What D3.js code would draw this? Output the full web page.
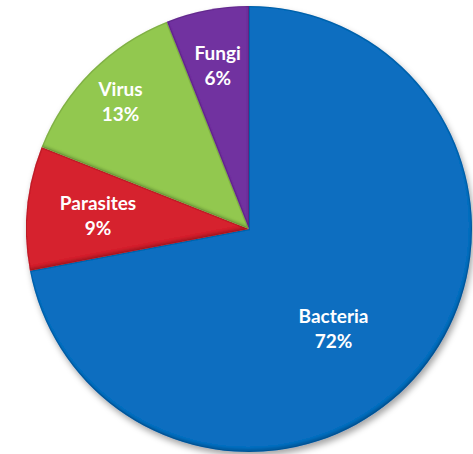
<!DOCTYPE html>
<html>
<head>
<meta charset="utf-8">
<script src="https://cdn.jsdelivr.net/npm/d3@7"></script>
<style>
  html, body { margin: 0; padding: 0; background: #ffffff; }
  svg { display: block; }
</style>
</head>
<body>
<svg id="chart" width="473" height="454"></svg>
<script>
// Share of infections by pathogen type
const categories = ["Bacteria", "Parasites", "Virus", "Fungi"];
const percents = [72, 9, 13, 6];
const colors = ["#0b6ec0", "#d6222f", "#92c850", "#7131a0"];
const rimColors = ["#5ec8f5", "#f27a82", "#d4f29a", "#b985e6"];

// Label placement: fraction of the radius along each slice's mid angle,
// plus a small turn (degrees) for the big slice.
const labelRadius = [0.585, 0.68, 0.815, 0.75];
const labelTurn = [10, 0, 0, 0];

const width = 473, height = 454;
const cx = 249, cy = 229, radius = 223;

const svg = d3.select("#chart");
const defs = svg.append("defs");

// Soft drop shadow under the whole pie
const shadow = defs.append("filter").attr("id", "pieShadow")
  .attr("x", "-10%").attr("y", "-10%").attr("width", "125%").attr("height", "125%");
shadow.append("feDropShadow")
  .attr("dx", 2).attr("dy", 4).attr("stdDeviation", 3)
  .attr("flood-color", "#000").attr("flood-opacity", 0.35);

// Bevel: darker rim at the edge and darker lower-facing edges
const bevel = defs.append("filter").attr("id", "bevel")
  .attr("x", "-5%").attr("y", "-5%").attr("width", "110%").attr("height", "110%");
bevel.append("feMorphology").attr("in", "SourceAlpha").attr("operator", "erode").attr("radius", 1.2).attr("result", "e1");
bevel.append("feComposite").attr("in", "SourceAlpha").attr("in2", "e1").attr("operator", "out").attr("result", "outerRing");
bevel.append("feFlood").attr("flood-color", "#000").attr("flood-opacity", 0.25).attr("result", "darkFlood");
bevel.append("feComposite").attr("in", "darkFlood").attr("in2", "outerRing").attr("operator", "in").attr("result", "outerDark");
bevel.append("feOffset").attr("in", "SourceAlpha").attr("dx", -1).attr("dy", -3).attr("result", "shifted");
bevel.append("feComposite").attr("in", "SourceAlpha").attr("in2", "shifted").attr("operator", "out").attr("result", "lowerBand");
bevel.append("feGaussianBlur").attr("in", "lowerBand").attr("stdDeviation", 0.8).attr("result", "lowerBandBlur");
bevel.append("feFlood").attr("flood-color", "#000").attr("flood-opacity", 0.35).attr("result", "lowFlood");
bevel.append("feComposite").attr("in", "lowFlood").attr("in2", "lowerBandBlur").attr("operator", "in").attr("result", "lowerDark0");
bevel.append("feComposite").attr("in", "lowerDark0").attr("in2", "SourceAlpha").attr("operator", "in").attr("result", "lowerDark");
const merge = bevel.append("feMerge");
merge.append("feMergeNode").attr("in", "SourceGraphic");
merge.append("feMergeNode").attr("in", "outerDark");
merge.append("feMergeNode").attr("in", "lowerDark");

const data = categories.map((name, i) => ({ name, value: percents[i], i }));

const pie = d3.pie().sort(null).value(d => d.value).startAngle(0).endAngle(2 * Math.PI);
const arcs = pie(data);

const arc = d3.arc().innerRadius(0).outerRadius(radius);

const g = svg.append("g")
  .attr("transform", `translate(${cx},${cy})`)
  .attr("filter", "url(#pieShadow)");

g.selectAll("path.slice")
  .data(arcs)
  .join("path")
  .attr("class", "slice")
  .attr("d", arc)
  .attr("fill", d => colors[d.data.i])
  .attr("filter", "url(#bevel)");

// thin light highlight just inside each slice's outline
arcs.forEach(d => {
  const id = "clip" + d.data.i;
  defs.append("clipPath").attr("id", id)
    .append("path").attr("d", arc(d)).attr("transform", `translate(${cx},${cy})`);
});
const hl = svg.append("g");
hl.selectAll("path.rim")
  .data(arcs)
  .join("path")
  .attr("class", "rim")
  .attr("transform", `translate(${cx},${cy})`)
  .attr("d", d => d3.arc().innerRadius(0).outerRadius(radius - 2.6)(d))
  .attr("fill", "none")
  .attr("stroke", d => rimColors[d.data.i])
  .attr("stroke-opacity", 0.6)
  .attr("stroke-width", 1.3)
  .attr("clip-path", d => `url(#clip${d.data.i})`);

// Labels
const labels = svg.append("g")
  .attr("transform", `translate(${cx},${cy})`)
  .attr("font-family", "Lato, 'Open Sans', sans-serif")
  .attr("font-weight", "bold")
  .attr("font-size", 19)
  .attr("fill", "#ffffff")
  .attr("text-anchor", "middle");

arcs.forEach(d => {
  const i = d.data.i;
  const mid = (d.startAngle + d.endAngle) / 2 + labelTurn[i] * Math.PI / 180;
  const rr = radius * labelRadius[i];
  const x = rr * Math.sin(mid);
  const y = -rr * Math.cos(mid);
  const t = labels.append("text").attr("x", x).attr("y", y);
  t.append("tspan").attr("x", x).attr("y", y - 5).text(d.data.name);
  t.append("tspan").attr("x", x).attr("y", y + 20).text(d.data.value + "%");
});
</script>
</body>
</html>
